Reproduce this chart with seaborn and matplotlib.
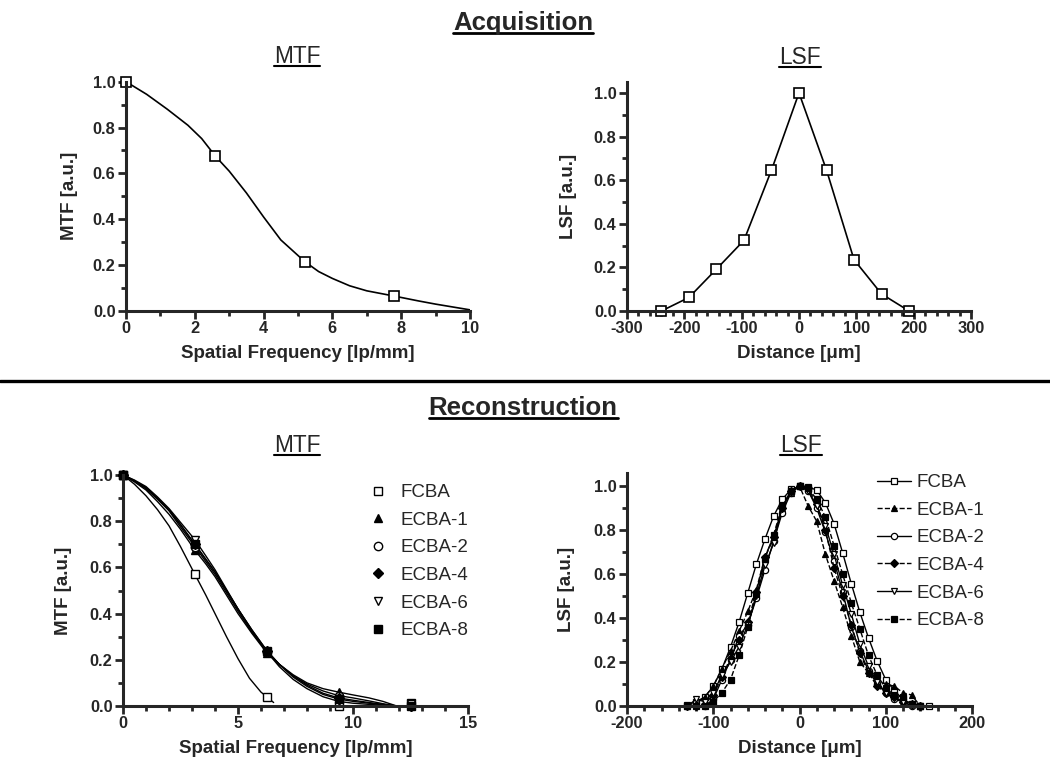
import numpy as np
import pandas as pd
import seaborn as sns
import matplotlib.pyplot as plt
from matplotlib.lines import Line2D
from matplotlib.ticker import MultipleLocator

# ---- data ----

# Acquisition MTF (smooth curve + sampled points)
acq_mtf_curve_x = [0, 0.6, 1.2, 1.8, 2.2, 2.6, 3, 3.5, 4, 4.5, 5.2, 5.6, 6, 6.5, 7, 7.8, 8.5, 9, 10]
acq_mtf_curve_y = [1.0, 0.945, 0.88, 0.81, 0.752, 0.675, 0.61, 0.515, 0.41, 0.31, 0.215, 0.172, 0.142,
                   0.11, 0.088, 0.065, 0.044, 0.03, 0.005]
acq_mtf_pts_x = [0, 2.6, 5.2, 7.8]
acq_mtf_pts_y = [1.0, 0.675, 0.215, 0.065]

# Acquisition LSF
acq_lsf_x = [-240, -192, -144, -96, -48, 0, 48, 96, 144, 192]
acq_lsf_y = [0.0, 0.062, 0.192, 0.324, 0.646, 1.0, 0.646, 0.235, 0.078, 0.0]

# Reconstruction MTF
series_names = ["FCBA", "ECBA-1", "ECBA-2", "ECBA-4", "ECBA-6", "ECBA-8"]
rec_mtf_pts_x = [0, 3.125, 6.25, 9.375, 12.5]
rec_mtf_pts = {
    "FCBA":   [1.0, 0.57, 0.04, 0.0, 0.012],
    "ECBA-1": [1.0, 0.675, 0.23, 0.06, 0.005],
    "ECBA-2": [1.0, 0.69, 0.235, 0.045, 0.0],
    "ECBA-4": [1.0, 0.70, 0.24, 0.035, 0.0],
    "ECBA-6": [1.0, 0.72, 0.235, 0.02, 0.01],
    "ECBA-8": [1.0, 0.70, 0.24, 0.03, 0.0],
}
fcba_curve_x = [0, 0.5, 1, 1.5, 2, 2.5, 3.125, 3.6, 4, 4.5, 5, 5.5, 6, 6.25, 6.55]
fcba_curve_y = [1.0, 0.96, 0.91, 0.85, 0.78, 0.69, 0.57, 0.48, 0.40, 0.30, 0.205, 0.12, 0.06, 0.04, 0.015]
ecba_curve_x = [0, 0.5, 1, 1.5, 2, 2.5, 3.125, 3.6, 4, 4.5, 5, 5.6, 6.25, 6.8, 7.4, 8, 8.7,
                9.375, 10, 10.7, 11.3, 11.9]
ecba_curve_y = {
    "ECBA-1": [1.0, 0.97, 0.935, 0.885, 0.83, 0.765, 0.675, 0.615, 0.56, 0.48, 0.40, 0.315, 0.23,
               0.18, 0.135, 0.10, 0.075, 0.06, 0.048, 0.035, 0.02, 0.0],
    "ECBA-2": [1.0, 0.975, 0.94, 0.895, 0.845, 0.775, 0.69, 0.625, 0.57, 0.49, 0.41, 0.32, 0.235,
               0.18, 0.13, 0.095, 0.065, 0.045, 0.035, 0.022, 0.01, 0.0],
    "ECBA-4": [1.0, 0.975, 0.945, 0.90, 0.85, 0.785, 0.70, 0.635, 0.58, 0.50, 0.42, 0.33, 0.24,
               0.18, 0.13, 0.09, 0.055, 0.035, 0.025, 0.015, 0.007, 0.0],
    "ECBA-6": [1.0, 0.978, 0.95, 0.905, 0.855, 0.795, 0.72, 0.65, 0.59, 0.505, 0.42, 0.325, 0.235,
               0.17, 0.115, 0.075, 0.04, 0.02, 0.012, 0.007, 0.003, 0.0],
    "ECBA-8": [1.0, 0.975, 0.945, 0.90, 0.85, 0.785, 0.70, 0.635, 0.58, 0.50, 0.42, 0.33, 0.24,
               0.18, 0.125, 0.085, 0.05, 0.03, 0.02, 0.012, 0.005, 0.0],
}

# Reconstruction LSF
fcba_lsf_x = [-130, -120, -110, -100, -90, -80, -70, -60, -50, -40, -30, -20, -10, 0,
              10, 20, 30, 40, 50, 60, 70, 80, 90, 100, 110, 120, 130, 140, 150]
fcba_lsf_y = [0.005, 0.02, 0.04, 0.09, 0.168, 0.268, 0.382, 0.514, 0.645, 0.76, 0.864, 0.94, 0.985, 1.0,
              0.997, 0.982, 0.925, 0.83, 0.697, 0.557, 0.426, 0.31, 0.205, 0.12, 0.07, 0.03, 0.01, 0.0, 0.0]
ecba_lsf_x = [-130, -120, -110, -100, -90, -80, -70, -60, -50, -40, -30, -20, -10, 0,
              10, 20, 30, 40, 50, 60, 70, 80, 90, 100, 110, 120, 130, 140]
ecba_lsf_y = {
    "ECBA-1": [0.0, 0.01, 0.04, 0.09, 0.17, 0.25, 0.34, 0.43, 0.53, 0.68, 0.76, 0.90, 0.97, 1.0,
               0.91, 0.84, 0.69, 0.57, 0.45, 0.32, 0.20, 0.15, 0.12, 0.10, 0.09, 0.06, 0.05, 0.0],
    "ECBA-2": [0.0, 0.0, 0.0, 0.03, 0.12, 0.21, 0.32, 0.37, 0.49, 0.62, 0.75, 0.88, 0.97, 1.0,
               0.98, 0.90, 0.79, 0.66, 0.52, 0.36, 0.25, 0.16, 0.10, 0.06, 0.03, 0.02, 0.0, 0.0],
    "ECBA-4": [0.0, 0.0, 0.01, 0.05, 0.13, 0.22, 0.30, 0.38, 0.52, 0.68, 0.77, 0.90, 0.98, 1.0,
               0.99, 0.92, 0.80, 0.63, 0.50, 0.37, 0.24, 0.15, 0.09, 0.06, 0.04, 0.02, 0.01, 0.0],
    "ECBA-6": [0.0, 0.03, 0.02, 0.06, 0.14, 0.20, 0.27, 0.37, 0.50, 0.64, 0.74, 0.91, 0.97, 1.0,
               0.98, 0.91, 0.82, 0.69, 0.55, 0.42, 0.28, 0.18, 0.11, 0.06, 0.04, 0.02, 0.0, 0.0],
    "ECBA-8": [0.0, 0.0, 0.0, 0.02, 0.06, 0.12, 0.23, 0.36, 0.51, 0.67, 0.78, 0.91, 0.98, 1.0,
               0.99, 0.94, 0.86, 0.73, 0.60, 0.47, 0.35, 0.23, 0.14, 0.08, 0.05, 0.04, 0.01, 0.0],
}

# marker styles per series: (marker, face colour, line style)
styles = {
    "FCBA":   ("s", "white", "-"),
    "ECBA-1": ("^", "black", "--"),
    "ECBA-2": ("o", "white", "-"),
    "ECBA-4": ("D", "black", "--"),
    "ECBA-6": ("v", "white", "-"),
    "ECBA-8": ("s", "black", "--"),
}

# ---- style ----
sns.set_style("ticks")
plt.rcParams["font.family"] = ["Liberation Sans", "DejaVu Sans"]
plt.rcParams["axes.unicode_minus"] = False
plt.rcParams["axes.linewidth"] = 2.2
for ax_name in ("xtick", "ytick"):
    plt.rcParams[f"{ax_name}.major.width"] = 2.0
    plt.rcParams[f"{ax_name}.minor.width"] = 2.0
    plt.rcParams[f"{ax_name}.major.size"] = 5.5
    plt.rcParams[f"{ax_name}.minor.size"] = 3.5

W, H = 1050, 768
fig = plt.figure(figsize=(10.5, 7.68), dpi=100)


def px_axes(left, top, right, bottom):
    return fig.add_axes([left / W, 1 - bottom / H, (right - left) / W, (bottom - top) / H])


ax_tl = px_axes(126, 81.7, 470, 311)
ax_tr = px_axes(627, 82, 971, 311)
ax_bl = px_axes(123, 475, 468, 706)
ax_br = px_axes(627, 473, 972, 706)


def style_axes(ax, xlim, ylim, xmaj, xmin, xlabel, ylabel, ylab_x, xlab_y):
    ax.set_xlim(*xlim)
    ax.set_ylim(*ylim)
    ax.xaxis.set_major_locator(MultipleLocator(xmaj))
    ax.xaxis.set_minor_locator(MultipleLocator(xmin))
    ax.yaxis.set_minor_locator(MultipleLocator(0.1))
    ax.set_yticks([0, 0.2, 0.4, 0.6, 0.8, 1.0])
    ax.set_yticklabels(["0.0", "0.2", "0.4", "0.6", "0.8", "1.0"])
    ax.set_xticks(ax.get_xticks())
    ax.set_xticklabels([str(int(v)) for v in ax.get_xticks()])
    ax.set_xlim(*xlim)
    sns.despine(ax=ax)
    for lab in ax.get_xticklabels() + ax.get_yticklabels():
        lab.set_fontweight("bold")
        lab.set_fontsize(11.8)
    ax.tick_params(axis="both", which="major", pad=2)
    ax.set_xlabel(xlabel, fontsize=13.5, fontweight="bold")
    ax.set_ylabel(ylabel, fontsize=13.5, fontweight="bold")
    ax.yaxis.set_label_coords(ylab_x, 0.5)
    ax.xaxis.set_label_coords(0.5, xlab_y)


# ---- Acquisition MTF ----
sns.lineplot(x=acq_mtf_curve_x, y=acq_mtf_curve_y, ax=ax_tl, color="black", lw=1.2, legend=False)
sns.lineplot(x=acq_mtf_pts_x, y=acq_mtf_pts_y, ax=ax_tl, color="black", linestyle="none",
             marker="s", ms=7, mfc="white", mec="black", mew=1.2, legend=False, clip_on=False)
style_axes(ax_tl, (0, 10), (0, 1.0), 2, 1, "Spatial Frequency [lp/mm]", "MTF [a.u.]", -0.14, -0.15)

# ---- Acquisition LSF ----
sns.lineplot(x=acq_lsf_x, y=acq_lsf_y, ax=ax_tr, color="black", lw=1.2, marker="s", ms=7,
             mfc="white", mec="black", mew=1.2, legend=False, clip_on=False)
style_axes(ax_tr, (-300, 300), (0, 1.05), 100, 20, "Distance [\u03bcm]", "LSF [a.u.]", -0.145, -0.15)

# ---- Reconstruction MTF ----
sns.lineplot(x=fcba_curve_x, y=fcba_curve_y, ax=ax_bl, color="black", lw=1.0, legend=False)
for name in series_names[1:]:
    sns.lineplot(x=ecba_curve_x, y=ecba_curve_y[name], ax=ax_bl, color="black", lw=1.0, legend=False)
for name in series_names:
    mk, fc, _ = styles[name]
    sns.lineplot(x=rec_mtf_pts_x, y=rec_mtf_pts[name], ax=ax_bl, color="black", linestyle="none",
                 marker=mk, ms=6 if mk != "D" else 5, mfc=fc, mec="black", mew=1.0,
                 label=name, legend=False, clip_on=False)
style_axes(ax_bl, (0, 15), (0, 1.0), 5, 1, "Spatial Frequency [lp/mm]", "MTF [a.u.]", -0.148, -0.147)
ax_bl.legend(loc="upper left", bbox_to_anchor=(369 / W, 1 - 484 / H), bbox_transform=fig.transFigure,
             frameon=False, fontsize=13.5, handlelength=1.0, handletextpad=0.7, labelspacing=0.56,
             borderpad=0, borderaxespad=0)

# ---- Reconstruction LSF ----
sns.lineplot(x=fcba_lsf_x, y=fcba_lsf_y, ax=ax_br, color="black", lw=1.0, marker="s", ms=4.5,
             mfc="white", mec="black", mew=0.9, linestyle="-", label="FCBA", legend=False, clip_on=False)
for name in series_names[1:]:
    mk, fc, ls = styles[name]
    sns.lineplot(x=ecba_lsf_x, y=ecba_lsf_y[name], ax=ax_br, color="black", lw=1.0, linestyle=ls,
                 marker=mk, ms=4.5 if mk != "D" else 3.8, mfc=fc, mec="black", mew=0.9,
                 label=name, legend=False, clip_on=False)
style_axes(ax_br, (-200, 200), (0, 1.06), 100, 20, "Distance [\u03bcm]", "LSF [a.u.]", -0.151, -0.147)
ax_br.legend(loc="upper left", bbox_to_anchor=(877 / W, 1 - 474 / H), bbox_transform=fig.transFigure,
             frameon=False, fontsize=13.5, handlelength=1.8, handletextpad=0.3, labelspacing=0.56,
             borderpad=0, borderaxespad=0)

# ---- titles with underlines ----
renderer = fig.canvas.get_renderer()


def underlined(xc, baseline, text, size, weight, gap=3, lw=1.6):
    t = fig.text(xc / W, 1 - baseline / H, text, ha="center", va="baseline",
                 fontsize=size, fontweight=weight)
    bb = t.get_window_extent(renderer=renderer)
    y = 1 - (baseline + gap) / H
    fig.add_artist(Line2D([bb.x0 / W, bb.x1 / W], [y, y], color="black", lw=lw))


underlined(523, 30, "Acquisition", 18.5, "bold", gap=3, lw=2.0)
underlined(297, 63, "MTF", 16.3, "normal", gap=3, lw=1.5)
underlined(800, 64, "LSF", 16.3, "normal", gap=3, lw=1.5)
underlined(523, 415, "Reconstruction", 18.5, "bold", gap=3, lw=2.0)
underlined(297, 452, "MTF", 16.3, "normal", gap=3, lw=1.5)
underlined(801, 452, "LSF", 16.3, "normal", gap=3, lw=1.5)

# separator between the two panels
fig.add_artist(Line2D([0, 1], [1 - 381 / H, 1 - 381 / H], color="black", lw=2.4))

fig.savefig("out.png", dpi=100)
